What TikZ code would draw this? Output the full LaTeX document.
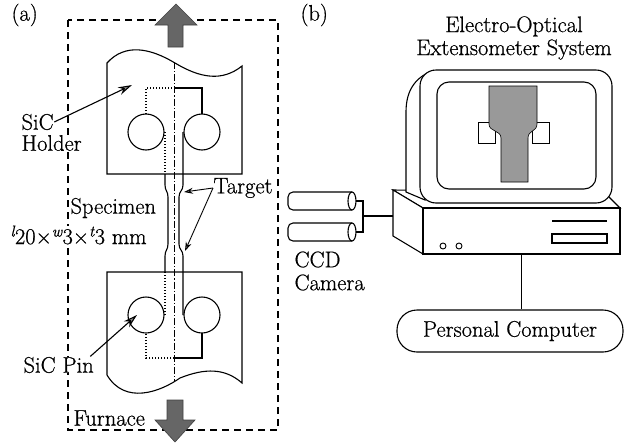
\documentclass[tikz,border=0pt]{standalone}
\usepackage{fontspec}
\newfontfamily\figfont{Latin Modern Roman}[FakeBold=0.7]
\usetikzlibrary{arrows.meta,positioning,calc}

\begin{document}
\begin{tikzpicture}[x=1pt, y=-1pt, line width=1.1pt,
  lbl/.style={font=\figfont\fontsize{22.5}{23}\selectfont, inner sep=0pt},
  holder/.style={draw, fill=white},
  hidden/.style={dash pattern=on 1.2pt off 1.8pt},
  axisline/.style={line width=0.9pt, dash pattern=on 7pt off 2pt on 1.2pt off 2pt},
  furnace/.style={dash pattern=on 7pt off 5pt, line width=1.3pt},
  load/.style={fill=black!60, draw=black!75, line width=0.6pt},
  ptr/.style={-{Stealth[length=14pt,width=8pt,fill=black!45]}, line width=1.1pt},
  tgt/.style={-{Stealth[length=9pt,width=6pt,fill=black!45]}, line width=0.9pt}]
\useasboundingbox (0,0) rectangle (625,445);

% ---- (a) specimen in the furnace
\draw[furnace] (68,20) rectangle (278,430);
\draw[load] (168,47) -- (168,25) -- (155,25) -- (176,4) -- (197,25) -- (183,25) -- (183,47) -- cycle;
\draw[load] (167,400) -- (167,420) -- (155,420) -- (175,442) -- (195,420) -- (183,420) -- (183,400) -- cycle;

% upper and lower holders
\draw[holder] (107,174) -- (107,63) .. controls (125,43) and (150,48) .. (175,63)
  .. controls (200,78) and (222,82) .. (242,66) -- (242,174) -- cycle;
\draw[holder] (107,272) -- (242,272) -- (242,383) .. controls (225,368) and (205,368) .. (180,378)
  .. controls (160,392) and (125,405) .. (107,375) -- cycle;

% pins
\draw (146,132) circle[radius=18];
\draw (202,132) circle[radius=18];
\draw (146,315) circle[radius=18];
\draw (202,315) circle[radius=18];

% specimen heads
\draw[hidden] (146,114) |- (174,88);
\draw (174,88) -| (202,114);
\draw (202,333) |- (174,358);
\draw[hidden] (174,358) -| (146,333);

% specimen edges
\draw[hidden] (165,132) -- (165,174);
\draw (165,174) -- (165,185) .. controls (165,191) and (168,191) .. (168,197) -- (168,244)
  .. controls (168,250) and (165,250) .. (165,256) -- (165,272);
\draw[hidden] (165,272) -- (165,315);
\draw (183,132) -- (183,185) .. controls (183,191) and (179,191) .. (179,197) -- (179,244)
  .. controls (179,250) and (183,250) .. (183,256) -- (183,315);
\draw[axisline] (174,62) -- (174,381);

% labels
\node[lbl, anchor=west] (pa) at (11,15) {(a)};
\node[lbl, anchor=west, fill=white] (sic) at (21,122) {SiC};
\node[lbl, anchor=west, fill=white] (holdname) at (21,143) {Holder};
\node[lbl, anchor=west] (spec) at (70,208) {Specimen};
\node[lbl, anchor=west, fill=white] (dims) at (10,235)
  {\textsuperscript{\itshape l}20×\textsuperscript{\itshape w}3×\textsuperscript{\itshape t}3 mm};
\node[lbl, anchor=west] (target) at (213,188) {Target};
\node[lbl, anchor=west, fill=white] (pin) at (23,365) {SiC Pin};
\node[lbl, anchor=west] (furn) at (73,418) {Furnace};

\coordinate (holdtip) at (132,85);
\coordinate (pintip) at (137,315);
\coordinate (tgtup) at (184,192);
\coordinate (tgtdown) at (185,251);
\draw[ptr] (sic.east) -- (holdtip);
\draw[ptr] ([xshift=-4pt]pin.north east) -- (pintip);
\draw[tgt] (target.west) -- (tgtup);
\draw[tgt] (target.west) -- (tgtdown);

% ---- (b) extensometer system
\node[lbl, anchor=west] (pb) at (300,15) {(b)};
\node[lbl, align=center] (title) at (514,38)
  {Electro-Optical\\Extensometer System};

% computer unit
\draw[fill=white] (393,190) -- (605,193) -- (620,208) -- (423,208) -- cycle;
\draw[fill=white] (393,190) -- (423,208) -- (423,254) -- (393,236) -- cycle;
\node[draw, fill=white, minimum width=197pt, minimum height=46pt, inner sep=0pt] (unit) at (521.5,231) {};
\draw[line width=2.6pt] (552,221) -- (607,221);
\draw (552,234) rectangle (607,243);
\draw[line width=0.9pt] (443,246) circle[radius=3];
\draw[line width=0.9pt] (459,246) circle[radius=3];

% monitor
\draw[fill=white] (432,71) .. controls (414,78) and (406,92) .. (406,112) -- (406,192) -- (425,200) -- (425,80) -- cycle;
\draw[fill=white, rounded corners=16pt] (420,70) rectangle (612,203);
\draw[rounded corners=12pt] (437,82) rectangle (596,189);
\draw[line width=0.7pt] (478,122) rectangle (495,143);
\draw[line width=0.7pt] (532,122) rectangle (549,143);
\draw[fill=black!40, line width=0.6pt] (489,86) -- (537,86) -- (537,124)
  .. controls (537,132) and (528,130) .. (528,138) -- (528,182) -- (501,182) -- (501,138)
  .. controls (501,130) and (489,132) .. (489,124) -- cycle;

% CCD cameras
\draw[rounded corners=5pt] (352,192) -- (288,192) -- (288,210) -- (352,210);
\draw (352,201) ellipse[x radius=4, y radius=9];
\draw[rounded corners=5pt] (352,223) -- (288,223) -- (288,241) -- (352,241);
\draw (352,232) ellipse[x radius=4, y radius=9];
\coordinate (cam1) at (356,201);
\coordinate (cam2) at (356,232);
\coordinate (hub) at (363,216);
\coordinate (port) at (393,216);
\draw (cam1) -| (hub) |- (cam2);
\draw (hub) -- (port);
\node[lbl, anchor=west, align=left] (ccd) at (294,271) {CCD\\Camera};

% personal computer
\node[draw, rounded corners=20pt, minimum width=226pt, minimum height=42pt, lbl] (pc) at (510,331) {Personal Computer};
\draw (unit.south) -- (unit.south |- pc.north);
\end{tikzpicture}
\end{document}
